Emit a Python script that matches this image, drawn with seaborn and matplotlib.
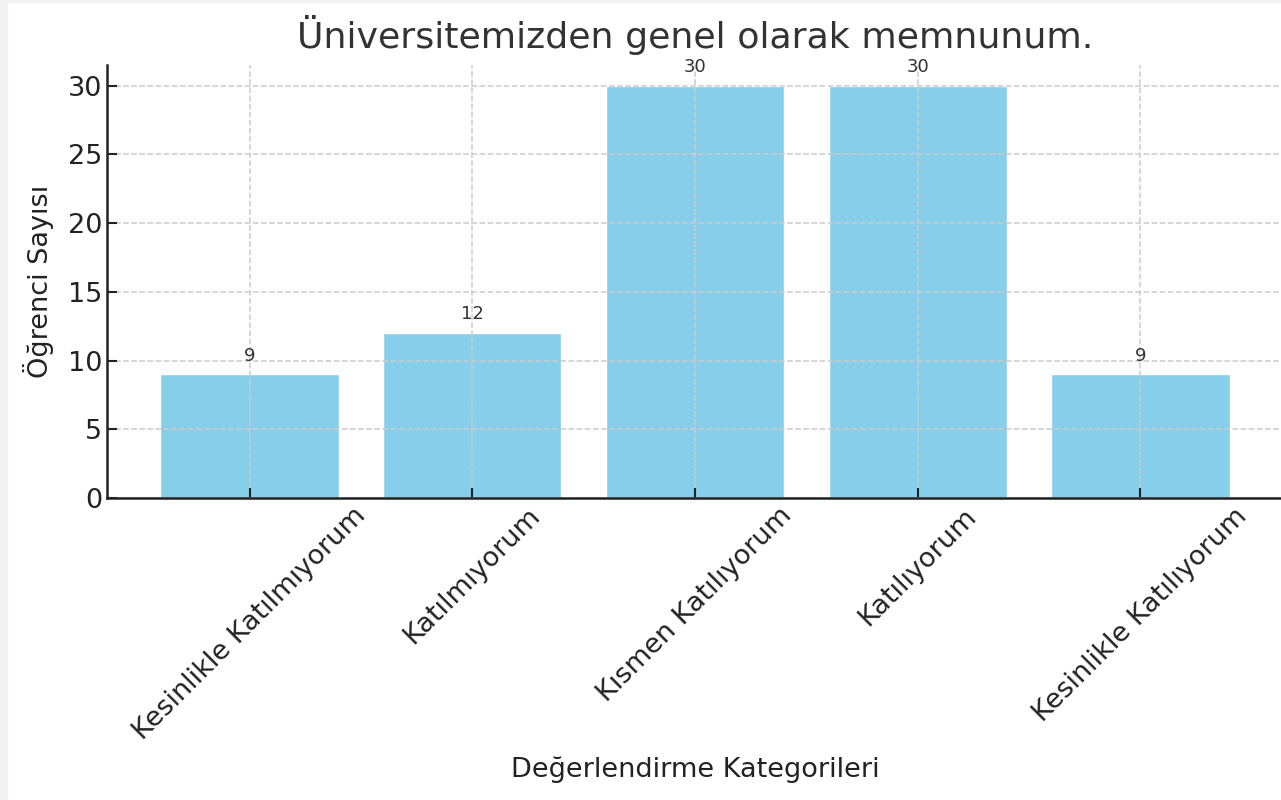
import pandas as pd
import seaborn as sns
import matplotlib.pyplot as plt
from matplotlib.patches import Rectangle

categories = ["Kesinlikle Katılmıyorum", "Katılmıyorum", "Kısmen Katılıyorum",
              "Katılıyorum", "Kesinlikle Katılıyorum"]
counts = [9, 12, 30, 30, 9]

title = "Üniversitemizden genel olarak memnunum."
xlabel = "Değerlendirme Kategorileri"
ylabel = "Öğrenci Sayısı"

data = pd.DataFrame({"kategori": categories, "sayi": counts})

sns.set_style("ticks")
plt.rcParams["font.family"] = ["DejaVu Sans"]

fig = plt.figure(figsize=(12.81, 8), dpi=100)
# light gray frame on the left/top edge of the screenshot
fig.patches.append(Rectangle((0, 0), 7 / 1281, 1, transform=fig.transFigure,
                             color="#f2f2f2", zorder=0))
fig.patches.append(Rectangle((0, 1 - 2 / 800), 1, 2 / 800, transform=fig.transFigure,
                             color="#f2f2f2", zorder=0))

ax = fig.add_axes([107 / 1281, 1 - 498 / 800, (1283 - 107) / 1281, (498 - 65) / 800])
sns.barplot(data=data, x="kategori", y="sayi", color="skyblue", width=0.8,
            saturation=1, ax=ax)

for p, v in zip(ax.patches, counts):
    ax.annotate(str(v), (p.get_x() + p.get_width() / 2, p.get_height()),
                xytext=(0, 7), textcoords="offset points", ha="center", va="bottom",
                fontsize=13, color="#333333")

ax.set_xlim(-0.64, 4.64)
ax.set_ylim(0, 31.5)
ax.set_yticks([0, 5, 10, 15, 20, 25, 30])
ax.grid(True, linestyle="--", color="#cccccc", linewidth=1.1)
ax.set_axisbelow(False)
ax.tick_params(direction="in", length=7, width=1.5, labelsize=19.5, colors="#222222")
plt.setp(ax.get_xticklabels(), rotation=45, ha="center")

ax.set_title(title, fontsize=26.2, color="#333333", pad=12)
ax.set_xlabel(xlabel, fontsize=19.5, color="#222222", labelpad=8)
ax.set_ylabel(ylabel, fontsize=19.5, color="#222222", labelpad=10)

sns.despine(ax=ax)
for s in ["left", "bottom"]:
    ax.spines[s].set_linewidth(1.8)
    ax.spines[s].set_color("#222222")
    ax.spines[s].set_zorder(4)

fig.savefig("out.png", dpi=100)
